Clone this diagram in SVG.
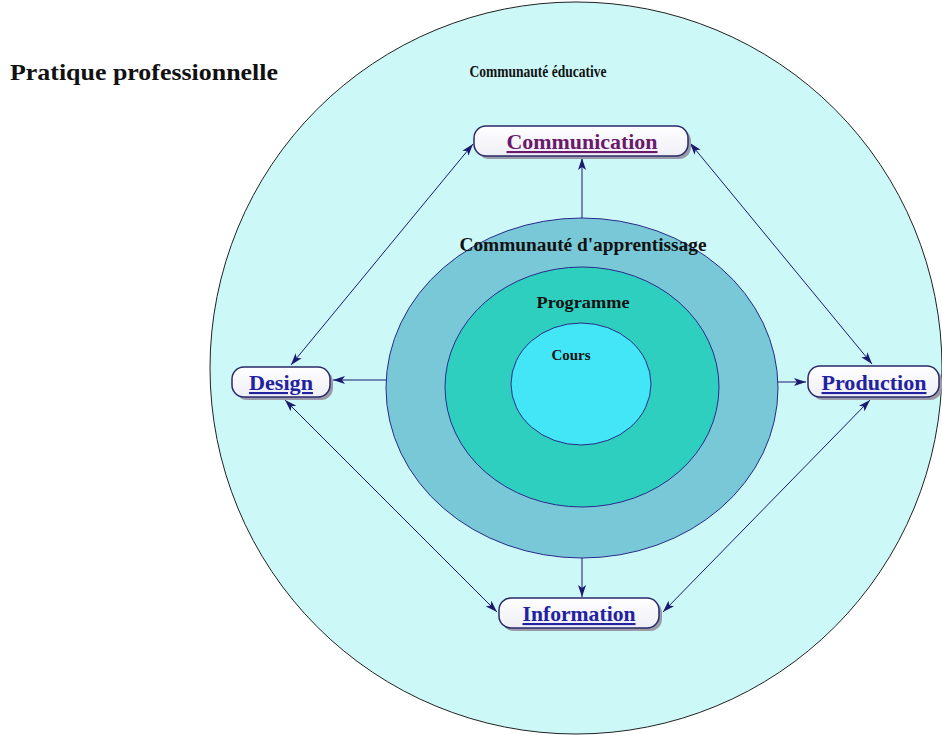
<svg xmlns="http://www.w3.org/2000/svg" width="942" height="735" viewBox="0 0 942 735">
<defs>
<marker id="ah" viewBox="0 0 12 8" refX="12" refY="4" markerWidth="12" markerHeight="8" markerUnits="userSpaceOnUse" orient="auto-start-reverse">
<path d="M0,0 L12,4 L0,8 L3,4 Z" fill="#1a1a6e"/>
</marker>
<linearGradient id="nodefill" x1="0" y1="0" x2="0" y2="1">
<stop offset="0" stop-color="#ffffff"/>
<stop offset="1" stop-color="#eeeef6"/>
</linearGradient>
</defs>
<style>
.box{fill:url(#nodefill);stroke:#2a2a6a;stroke-width:1.5}
.shadow{fill:#9a9aa8}
.lbl{font-family:"Liberation Serif","Times New Roman",serif;font-weight:bold;font-size:21px;text-anchor:middle;text-decoration:underline}
.ring{font-family:"Liberation Serif","Times New Roman",serif;font-weight:bold;text-anchor:middle;fill:#111}
.con{stroke:#1a1a6e;stroke-width:1;fill:none}
</style>
<rect width="942" height="735" fill="#ffffff"/>
<g id="circles">
<circle cx="576" cy="368" r="366" fill="#ccf8f8" stroke="#222" stroke-width="1"/>
<ellipse cx="582" cy="388" rx="196" ry="170" fill="#79c8d8" stroke="#2a2a8a" stroke-width="1"/>
<ellipse cx="582" cy="387" rx="137" ry="120" fill="#2fcfc0" stroke="#2a2a8a" stroke-width="1"/>
<ellipse cx="581" cy="384" rx="70" ry="61" fill="#42e6f6" stroke="#2a2a8a" stroke-width="1"/>
</g>
<text x="10" y="80" font-family="Liberation Serif, Times New Roman, serif" font-weight="bold" font-size="23" fill="#111" textLength="268" lengthAdjust="spacingAndGlyphs">Pratique professionnelle</text>
<text class="ring" x="538" y="77" font-size="16" textLength="137" lengthAdjust="spacingAndGlyphs">Communauté éducative</text>
<text class="ring" x="583" y="251" font-size="18" textLength="247" lengthAdjust="spacingAndGlyphs">Communauté d'apprentissage</text>
<text class="ring" x="583" y="308" font-size="17" textLength="93" lengthAdjust="spacingAndGlyphs">Programme</text>
<text class="ring" x="571" y="360" font-size="15">Cours</text>
<g id="connectors">
<line class="con" x1="582" y1="218" x2="582" y2="158" marker-end="url(#ah)"/>
<line class="con" x1="386" y1="380" x2="333" y2="380" marker-end="url(#ah)"/>
<line class="con" x1="778" y1="382" x2="806" y2="382" marker-end="url(#ah)"/>
<line class="con" x1="582" y1="558" x2="582" y2="597" marker-end="url(#ah)"/>
<line class="con" x1="473" y1="144" x2="291" y2="365" marker-start="url(#ah)" marker-end="url(#ah)"/>
<line class="con" x1="690" y1="143" x2="872" y2="364" marker-start="url(#ah)" marker-end="url(#ah)"/>
<line class="con" x1="285" y1="400" x2="497" y2="612" marker-start="url(#ah)" marker-end="url(#ah)"/>
<line class="con" x1="870" y1="400" x2="663" y2="612" marker-start="url(#ah)" marker-end="url(#ah)"/>
</g>
<g id="node-communication">
<rect class="shadow" x="477" y="129" width="214" height="30" rx="12"/>
<rect class="box" x="474" y="126" width="214" height="30" rx="12"/>
<text class="lbl" x="582" y="149" fill="#6a1a6a" textLength="151" lengthAdjust="spacingAndGlyphs">Communication</text>
</g>
<g id="node-design">
<rect class="shadow" x="235" y="370" width="98" height="30" rx="12"/>
<rect class="box" x="232" y="367" width="98" height="30" rx="12"/>
<text class="lbl" x="281" y="390" fill="#2222a0" textLength="64" lengthAdjust="spacingAndGlyphs">Design</text>
</g>
<g id="node-production">
<rect class="shadow" x="811" y="369" width="131" height="31" rx="12"/>
<rect class="box" x="808" y="366" width="131" height="31" rx="12"/>
<text class="lbl" x="874" y="390" fill="#2222a0" textLength="105" lengthAdjust="spacingAndGlyphs">Production</text>
</g>
<g id="node-information">
<rect class="shadow" x="502" y="601" width="160" height="30" rx="12"/>
<rect class="box" x="499" y="598" width="160" height="30" rx="12"/>
<text class="lbl" x="579" y="621" fill="#2222a0" textLength="113" lengthAdjust="spacingAndGlyphs">Information</text>
</g>
</svg>
